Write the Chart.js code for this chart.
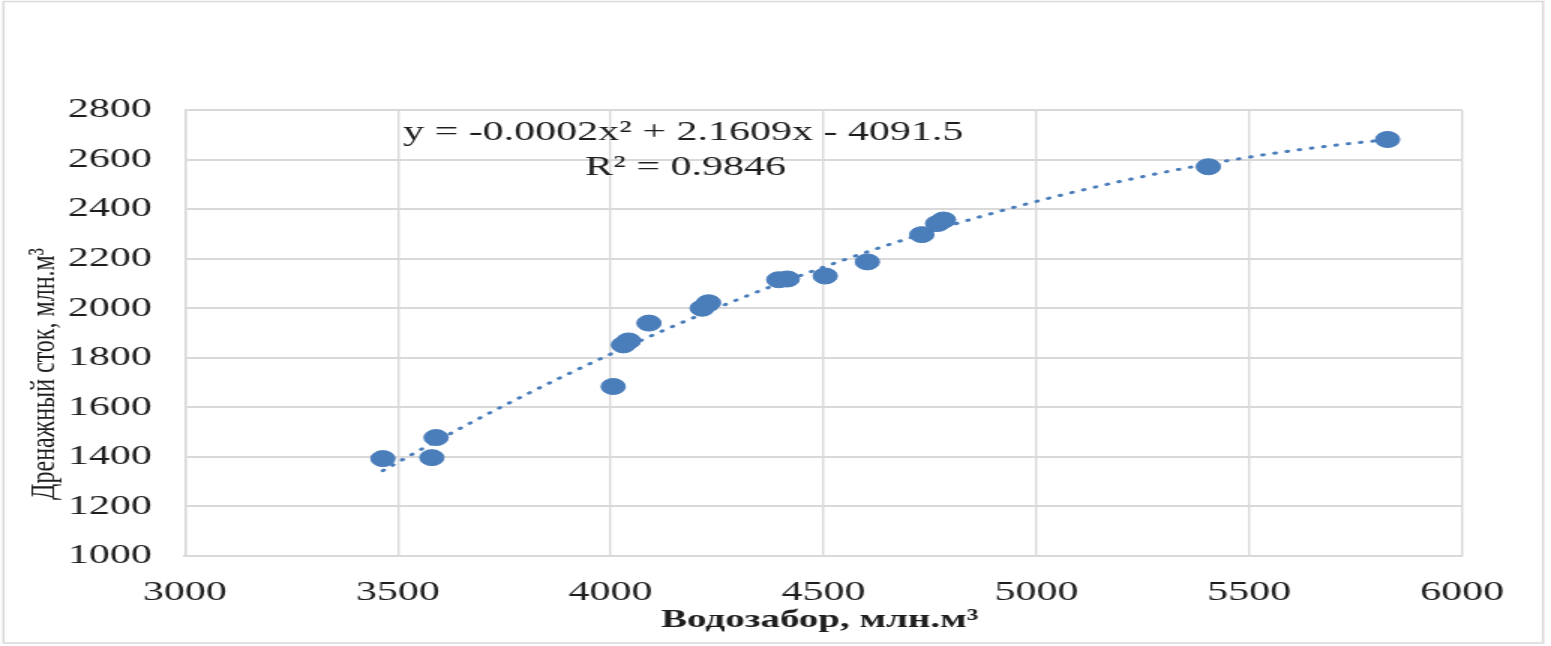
<!DOCTYPE html>
<html>
<head>
<meta charset="utf-8">
<script src="https://cdn.jsdelivr.net/npm/chart.js@4/dist/chart.umd.min.js"></script>
<style>
  html, body { margin: 0; padding: 0; background: #fff; overflow: hidden; }
  /* the source picture is stretched sideways, so the chart is drawn narrow and widened */
  #wrap { width: 1034px; height: 646px; transform: scaleX(1.5); transform-origin: 0 0; }
</style>
</head>
<body>
<div id="wrap"><canvas id="myChart"></canvas></div>
<script>
// water intake (x) and drainage runoff (y), mln m3
var waterIntake = [3465, 3580, 3590, 4006, 4030, 4042, 4090, 4215, 4230, 4395, 4415, 4504, 4603, 4731, 4768, 4782, 5404, 5825];
var drainage    = [1393, 1397, 1478, 1684, 1852, 1868, 1940, 2000, 2022, 2115, 2118, 2130, 2187, 2297, 2342, 2356, 2571, 2681];

var xTicks = [3000, 3500, 4000, 4500, 5000, 5500, 6000];
var yTicks = [1000, 1200, 1400, 1600, 1800, 2000, 2200, 2400, 2600, 2800];

var equationText = "y = -0.0002x² + 2.1609x - 4091.5";
var r2Text = "R² = 0.9846";
var xTitle = "Водозабор, млн.м³";
var yTitle = "Дренажный сток, млн.м³";

var blue = "#4a7ebb";
var gridColor = "#d9d9d9";
var textColor = "#1e1e1e";
var serif = "'Liberation Serif', 'DejaVu Serif', serif";

var points = [];
for (var i = 0; i < waterIntake.length; i++) {
    points.push({x: waterIntake[i], y: drainage[i]});
}

// quadratic least squares trendline, like the spreadsheet one
function quadFit(xs, ys) {
    var n = xs.length, mx = 0;
    for (var i = 0; i < n; i++) mx += xs[i];
    mx /= n;
    var s = [0, 0, 0, 0, 0], t = [0, 0, 0];
    for (i = 0; i < n; i++) {
        var u = xs[i] - mx, p = 1;
        for (var k = 0; k < 5; k++) { s[k] += p; if (k < 3) t[k] += p * ys[i]; p *= u; }
    }
    var m = [[s[0], s[1], s[2], t[0]], [s[1], s[2], s[3], t[1]], [s[2], s[3], s[4], t[2]]];
    for (var c = 0; c < 3; c++) {
        for (var r = c + 1; r < 3; r++) {
            var f = m[r][c] / m[c][c];
            for (var j = c; j < 4; j++) m[r][j] -= f * m[c][j];
        }
    }
    var b = [0, 0, 0];
    for (r = 2; r >= 0; r--) {
        var v = m[r][3];
        for (j = r + 1; j < 3; j++) v -= m[r][j] * b[j];
        b[r] = v / m[r][r];
    }
    return function(x) { var u = x - mx; return b[0] + b[1] * u + b[2] * u * u; };
}

var fit = quadFit(waterIntake, drainage);
var xMin = Math.min.apply(null, waterIntake), xMax = Math.max.apply(null, waterIntake);
var trend = [];
for (i = 0; i <= 80; i++) {
    var xv = xMin + (xMax - xMin) * i / 80;
    trend.push({x: xv, y: fit(xv)});
}

var decor = {
    id: "decor",
    beforeDraw: function(chart) {
        var ctx = chart.ctx;
        ctx.save();
        ctx.fillStyle = "#fff";
        ctx.fillRect(0, 0, chart.width, chart.height);
        ctx.strokeStyle = gridColor;
        ctx.lineWidth = 1.5;
        ctx.strokeRect(2.3, 1.5, 1026.4, 641.5);
        ctx.restore();
    },
    afterDraw: function(chart) {
        var ctx = chart.ctx;
        ctx.save();
        ctx.fillStyle = textColor;
        ctx.textAlign = "center";
        ctx.textBaseline = "middle";
        ctx.font = "28px " + serif;
        ctx.fillText(equationText, 455.5, 133);
        ctx.fillText(r2Text, 457, 168);
        ctx.font = "bold 26px " + serif;
        ctx.fillText(xTitle, 546.5, 620);
        ctx.translate(30, 374);
        ctx.rotate(-Math.PI / 2);
        ctx.font = "24px " + serif;
        ctx.fillText(yTitle, 0, 0);
        ctx.restore();
    }
};

function plain(v) { return String(v); }

new Chart("myChart", {
    type: "scatter",
    data: {
        datasets: [{
            data: trend,
            showLine: true,
            borderColor: blue,
            borderWidth: 3,
            borderDash: [0.8, 7.5],
            borderCapStyle: "round",
            pointRadius: 0,
            fill: false,
            order: 2
        }, {
            data: points,
            backgroundColor: blue,
            borderColor: blue,
            pointRadius: 8,
            pointHoverRadius: 8,
            order: 1
        }]
    },
    options: {
        responsive: true,
        maintainAspectRatio: false,
        animation: false,
        layout: {padding: {top: 110, right: 59.3, left: 0, bottom: 0}},
        plugins: {legend: {display: false}, tooltip: {enabled: false}},
        scales: {
            x: {
                type: "linear",
                min: 3000, max: 6000,
                afterBuildTicks: function(s) { s.ticks = xTicks.map(function(v) { return {value: v}; }); },
                afterFit: function(s) { s.height = 90; },
                ticks: {font: {family: serif, size: 28}, color: textColor, padding: 20, maxRotation: 0, callback: plain},
                grid: {color: gridColor, lineWidth: 1.4, drawTicks: false},
                border: {color: gridColor, width: 2}
            },
            y: {
                type: "linear",
                min: 1000, max: 2800,
                afterBuildTicks: function(s) { s.ticks = yTicks.map(function(v) { return {value: v}; }); },
                afterFit: function(s) { s.width = 123.3; },
                ticks: {font: {family: serif, size: 28}, color: textColor, padding: 22, callback: plain},
                grid: {color: gridColor, lineWidth: 2, drawTicks: false},
                border: {color: gridColor, width: 1.4}
            }
        }
    },
    plugins: [decor]
});
</script>
</body>
</html>
